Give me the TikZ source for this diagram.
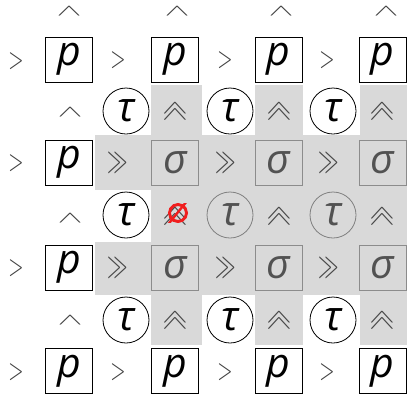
\documentclass[tikz,border=0pt]{standalone}
\usepackage{fontspec}
\usepackage{graphicx}
\newfontfamily\lett{Open Sans}
\newfontfamily\djvb[FakeBold=5]{DejaVu Sans}
\newcommand\chevR{\scalebox{1.97}[2.93]{$>$}}
\newcommand\chevRR{\scalebox{2.05}[3.45]{$\gg$}}
\newcommand\chevU{\scalebox{1.64}[3.6]{$>$}}
\newcommand\chevUU{\scalebox{2.05}[3.45]{$\gg$}}
\definecolor{nullred}{RGB}{240,30,30}
\begin{document}
\begin{tikzpicture}[x=1pt,y=-1pt,
 every node/.style={inner sep=0pt},
 letters/.style={font=\lett\itshape\fontsize{41}{41}\selectfont},
 pbox/.style={letters,draw=black,line width=0.8pt,minimum width=47pt,minimum height=45pt,text=black},
 sbox/.style={letters,draw=black!45,line width=0.8pt,minimum width=47pt,minimum height=45pt,text=black!68},
 tcirc/.style={letters,circle,draw=black,line width=0.8pt,minimum size=46pt,text=black},
 tcircg/.style={letters,circle,draw=black!50,line width=0.8pt,minimum size=46pt,text=black!68},
 chev/.style={text=black!75},
 chevg/.style={text=black!72},
 up/.style={rotate=90},
 shade/.style={fill=black!15}
]
\useasboundingbox (0,0) rectangle (407,400);
% grey regions
\fill[shade] (151,85) rectangle (202,135);
\fill[shade] (255,85) rectangle (303,135);
\fill[shade] (360,85) rectangle (407,135);
\fill[shade] (95,135) rectangle (407,190);
\fill[shade] (151,190) rectangle (407,242);
\fill[shade] (95,242) rectangle (407,295);
\fill[shade] (151,295) rectangle (202,345);
\fill[shade] (255,295) rectangle (303,345);
\fill[shade] (360,295) rectangle (407,345);
% row 0
\node[chev,up] (u0a) at (69,11) {\chevU};
\node[chev,up] (u0b) at (177,11) {\chevU};
\node[chev,up] (u0c) at (281,11) {\chevU};
\node[chev,up] (u0d) at (386,11) {\chevU};
% row 1
\node[chev] (g1a) at (16,61) {\chevR};
\node[pbox] (p1a) at (69,59.5) {p};
\node[chev] (g1b) at (118,60) {\chevR};
\node[pbox] (p1b) at (175,59.5) {p};
\node[chev] (g1c) at (225,60) {\chevR};
\node[pbox] (p1c) at (278.5,59.5) {p};
\node[chev] (g1d) at (327,60) {\chevR};
\node[pbox] (p1d) at (382.5,59.5) {p};
% row 2
\node[chev,up] (u2a) at (70,112) {\chevU};
\node[tcirc] (t2a) at (126,111) {τ};
\node[chevg,up] (uu2a) at (175,111.5) {\chevUU};
\node[tcirc] (t2b) at (230,111) {τ};
\node[chevg,up] (uu2b) at (279,111.5) {\chevUU};
\node[tcirc] (t2c) at (333,111) {τ};
\node[chevg,up] (uu2c) at (382,111.5) {\chevUU};
% row 3
\node[chev] (g3a) at (16,163) {\chevR};
\node[pbox] (p3a) at (69,162.5) {p};
\node[chevg] (gg3a) at (118,163) {\chevRR};
\node[sbox] (s3a) at (175,162.5) {σ};
\node[chevg] (gg3b) at (226,163) {\chevRR};
\node[sbox] (s3b) at (278.5,162.5) {σ};
\node[chevg] (gg3c) at (329,163) {\chevRR};
\node[sbox] (s3c) at (382.5,162.5) {σ};
% row 4
\node[chev,up] (u4a) at (70,218) {\chevU};
\node[tcirc] (t4a) at (126,215) {τ};
\node[chevg,up] (uu4a) at (175,216) {\chevUU};
\node[text=nullred,font=\djvb\fontsize{26}{26}\selectfont] (nul) at (178,213) {∅};
\node[tcircg] (t4b) at (230,215) {τ};
\node[chevg,up] (uu4b) at (279,216) {\chevUU};
\node[tcircg] (t4c) at (333,215) {τ};
\node[chevg,up] (uu4c) at (382,216) {\chevUU};
% row 5
\node[chev] (g5a) at (16,268) {\chevR};
\node[pbox] (p5a) at (69,267.5) {p};
\node[chevg] (gg5a) at (118,268) {\chevRR};
\node[sbox] (s5a) at (175,267.5) {σ};
\node[chevg] (gg5b) at (226,268) {\chevRR};
\node[sbox] (s5b) at (278.5,267.5) {σ};
\node[chevg] (gg5c) at (329,268) {\chevRR};
\node[sbox] (s5c) at (382.5,267.5) {σ};
% row 6
\node[chev,up] (u6a) at (70,320) {\chevU};
\node[tcirc] (t6a) at (126,320) {τ};
\node[chevg,up] (uu6a) at (175,320) {\chevUU};
\node[tcirc] (t6b) at (230,320) {τ};
\node[chevg,up] (uu6b) at (279,320) {\chevUU};
\node[tcirc] (t6c) at (333,320) {τ};
\node[chevg,up] (uu6c) at (382,320) {\chevUU};
% row 7
\node[chev] (g7a) at (16,372) {\chevR};
\node[pbox] (p7a) at (69,371) {p};
\node[chev] (g7b) at (118,372) {\chevR};
\node[pbox] (p7b) at (175,371) {p};
\node[chev] (g7c) at (225,372) {\chevR};
\node[pbox] (p7c) at (278.5,371) {p};
\node[chev] (g7d) at (327,372) {\chevR};
\node[pbox] (p7d) at (382.5,371) {p};
\end{tikzpicture}
\end{document}
